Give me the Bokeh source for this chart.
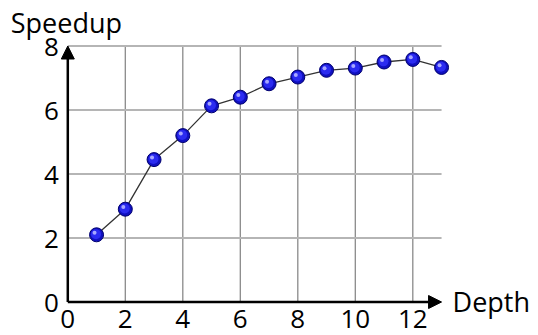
from bokeh.plotting import figure
from bokeh.models import Range1d, Arrow, NormalHead, ColumnDataSource
from bokeh.transform import dodge
from bokeh.embed import file_html
from bokeh.resources import INLINE
from bokeh.core.properties import value

# ---- data ----
depth = [1, 2, 3, 4, 5, 6, 7, 8, 9, 10, 11, 12, 13]
speedup = [2.10, 2.90, 4.45, 5.20, 6.13, 6.40, 6.82, 7.03, 7.24, 7.31, 7.50, 7.58, 7.33]
x_ticks = [0, 2, 4, 6, 8, 10, 12]
x_tick_labels = ["0", "2", "4", "6", "8", "10", "12"]
y_ticks = [0, 2, 4, 6, 8]
y_tick_labels = ["0", "2", "4", "6", "8"]
x_grid = [2, 4, 6, 8, 10, 12]
y_grid = [2, 4, 6, 8]
x_max = 13
y_max = 8
x_title = "Depth"
y_title = "Speedup"

# ---- layout (pixel geometry of the canvas) ----
W, H = 538, 335
OX, OY = 67.3, 301.5        # pixel position of data origin
PXX, PXY = 28.75, 32.0      # pixels per data unit
x0 = -OX / PXX
y0 = -(H - OY) / PXY
FONT = value("Open Sans")
FS = "26px"
FS_T = "27px"

p = figure(width=W, height=H, output_backend="svg", toolbar_location=None,
           x_range=Range1d(x0, x0 + W / PXX), y_range=Range1d(y0, y0 + H / PXY),
           x_axis_type=None, y_axis_type=None, min_border=0,
           background_fill_color="white", border_fill_color="white")
p.outline_line_color = None

# grid
p.segment(x0=x_grid, y0=[0] * len(x_grid), x1=x_grid, y1=[y_max] * len(x_grid),
          line_color="#8a8a8a", line_width=1.3)
p.segment(x0=[0] * len(y_grid), y0=y_grid, x1=[x_max] * len(y_grid), y1=y_grid,
          line_color="#b5b5b5", line_width=1.8)

# axes with arrows
p.add_layout(Arrow(x_start=0, y_start=0, x_end=x_max, y_end=0, line_width=2.5, line_color="black",
                   end=NormalHead(size=13, fill_color="black", line_color="black", line_width=1)))
p.add_layout(Arrow(x_start=0, y_start=0, x_end=0, y_end=y_max, line_width=2.5, line_color="black",
                   end=NormalHead(size=13, fill_color="black", line_color="black", line_width=1)))

# tick labels
p.text(x=x_ticks, y=[0] * len(x_ticks), text=x_tick_labels, text_font=FONT, text_font_size=FS,
       text_align="center", text_baseline="alphabetic", y_offset=17, text_color="black")
p.text(x=[0] * len(y_ticks), y=y_ticks, text=y_tick_labels, text_font=FONT, text_font_size=FS,
       text_align="right", text_baseline="alphabetic", x_offset=-9, y_offset=1, text_color="black")

# axis titles
p.text(x=[0], y=[y_max], text=[y_title], text_font=FONT, text_font_size=FS_T,
       text_align="left", text_baseline="alphabetic", x_offset=-57, y_offset=-24, text_color="black")
p.text(x=[x_max], y=[0], text=[x_title], text_font=FONT, text_font_size=FS_T,
       text_align="left", text_baseline="alphabetic", x_offset=11, y_offset=-1, text_color="black")

# series
src = ColumnDataSource(dict(x=depth, y=speedup))
p.line("x", "y", source=src, line_color="#333333", line_width=1.3)
p.scatter("x", "y", source=src, size=14, marker="circle", fill_color="#1010c0",
          line_color="#00006e", line_width=1)
p.scatter(dodge("x", -0.02, range=p.x_range), dodge("y", 0.02, range=p.y_range), source=src,
          size=10, marker="circle", fill_color="#2b2bf0", line_color=None)
p.scatter(dodge("x", -0.07, range=p.x_range), dodge("y", 0.065, range=p.y_range), source=src,
          size=4, marker="circle", fill_color="#a8a8ff", line_color=None)

open("out.html", "w").write(file_html(p, INLINE))
